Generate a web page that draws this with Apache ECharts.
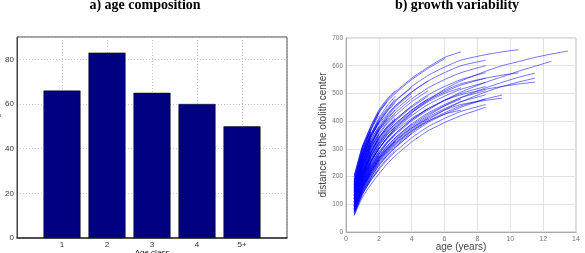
<!DOCTYPE html>
<html>
<head>
<meta charset="utf-8">
<script src="https://cdn.jsdelivr.net/npm/echarts@6/dist/echarts.min.js"></script>
<style>
  html, body { margin: 0; padding: 0; background: #fff; }
  #chart { width: 585px; height: 253px; }
</style>
</head>
<body>
<div id="chart"></div>
<script>
// a) age composition
const ageClasses = ['1', '2', '3', '4', '5+'];
const imageCounts = [66, 83, 65, 60, 50];

// b) growth variability: each curve is read at these ages (years), curves stop when the fish does
const growthAges = [0.5, 1, 1.5, 2, 2.5, 3, 4, 5, 6, 7, 8.5, 9.5, 10.5, 11.5, 12.5, 13.5];

const shortCurves = [
  [60, 140, 190], [75, 155, 215], [85, 170, 235], [95, 185, 250], [105, 200, 270],
  [115, 210, 285], [125, 225, 300], [135, 240, 320], [150, 260, 345], [165, 280, 360],
  [180, 290, 350], [70, 150, 210], [90, 175, 240], [110, 195, 265], [130, 215, 290],
  [145, 235, 310], [160, 250, 330], [100, 180, 245], [120, 205, 275], [200, 300, 365],
  [140, 250, 340], [170, 290, 370], [155, 270, 355], [190, 310, 360], [130, 240, 330],
  [65, 135, 185, 225], [80, 160, 215, 260], [95, 175, 240, 290], [110, 190, 255, 305],
  [120, 210, 275, 325], [135, 230, 295, 345], [150, 250, 320, 370], [170, 270, 345, 395],
  [185, 285, 365, 420], [90, 170, 230, 280], [105, 185, 250, 300], [125, 220, 285, 335],
  [140, 240, 305, 355], [160, 260, 330, 380], [75, 150, 205, 250], [110, 215, 300, 350],
  [145, 260, 345, 400], [175, 300, 370, 430], [85, 165, 225, 275], [130, 235, 310, 365]
];

const midCurves = [
  [70, 140, 190, 230, 265, 295], [90, 165, 220, 265, 300, 330], [110, 190, 250, 300, 340, 370],
  [130, 215, 280, 330, 370, 400], [150, 240, 305, 355, 395, 425], [175, 270, 340, 395, 435, 465],
  [190, 290, 365, 430, 470], [100, 180, 235, 280, 320, 350], [120, 200, 260, 310, 350, 380],
  [85, 160, 215, 260, 295, 325], [140, 225, 290, 340, 380, 410], [160, 255, 320, 370, 410, 440],
  [120, 225, 310, 370, 410], [100, 200, 280, 340, 380, 410], [165, 280, 350, 405, 445, 480],
  [180, 300, 380, 440, 480, 510], [155, 275, 350, 410, 455, 490],
  [75, 145, 195, 240, 275, 305, 355], [95, 170, 225, 270, 310, 340, 390],
  [115, 195, 255, 300, 340, 375, 425], [135, 220, 285, 335, 375, 405, 455],
  [155, 250, 315, 365, 405, 440, 490], [180, 280, 350, 400, 440, 475, 520],
  [85, 155, 210, 255, 290, 320, 370, 410], [105, 185, 240, 285, 325, 355, 405, 445],
  [125, 210, 270, 320, 360, 390, 440, 480], [145, 235, 300, 350, 390, 420, 470, 510],
  [165, 265, 330, 380, 420, 455, 505, 545], [140, 245, 320, 375, 415, 450, 500],
  [110, 200, 270, 325, 365, 400, 450, 490]
];

const oldCurves = [
  [60, 125, 170, 210, 245, 275, 325, 365, 395, 420, 450],
  [70, 135, 185, 225, 260, 290, 340, 380, 410, 435, 460],
  [80, 150, 200, 245, 280, 310, 360, 400, 430, 455, 480],
  [90, 165, 215, 260, 295, 325, 375, 415, 445, 470, 495],
  [100, 175, 230, 275, 310, 340, 390, 430, 460, 485, 510],
  [110, 190, 245, 290, 325, 355, 405, 445, 475, 500, 525],
  [120, 200, 255, 300, 340, 370, 420, 460, 490, 515, 540],
  [135, 215, 270, 315, 355, 385, 435, 475, 505, 530, 555],
  [150, 235, 290, 340, 375, 405, 455, 495, 525, 550, 575],
  [165, 255, 315, 365, 400, 430, 480, 520, 550, 575, 600],
  [180, 275, 340, 390, 425, 455, 505, 545, 575, 600, 620],
  [95, 170, 225, 270, 305, 335, 385, 425, 455, 480],
  [125, 205, 265, 310, 350, 380, 430, 470, 500, 520],
  [200, 305, 375, 430, 470, 500, 550, 590, 625],
  [205, 310, 380, 435, 475, 505, 555, 595, 630, 650],
  [85, 160, 210, 255, 290, 320, 365, 400, 425, 440],
  [110, 190, 250, 300, 340, 375, 430, 475, 515, 545, 580, 600, 615, 630, 642, 653],
  [100, 180, 235, 280, 320, 350, 400, 440, 475, 505, 540, 560, 580, 598, 616],
  [170, 270, 340, 395, 435, 470, 525, 565, 595, 620, 640, 650, 658],
  [90, 165, 220, 265, 300, 330, 380, 420, 455, 485, 520, 540, 558, 573],
  [80, 155, 205, 250, 285, 315, 365, 405, 440, 470, 505, 525, 541, 555],
  [120, 200, 255, 300, 335, 365, 410, 445, 475, 495, 515, 525, 534, 541],
  [130, 215, 275, 320, 360, 390, 440, 480, 510, 535, 555, 566, 574],
  [75, 145, 195, 240, 275, 305, 355, 395, 425, 450, 480, 494],
  [95, 170, 220, 265, 300, 330, 375, 410, 440, 460, 475, 483]
];

const growthCurves = shortCurves.concat(midCurves, oldCurves);

const chart = echarts.init(document.getElementById('chart'));

const lineSeries = growthCurves.map((c) => ({
  type: 'line',
  xAxisIndex: 1,
  yAxisIndex: 1,
  symbol: 'none',
  smooth: 0.2,
  silent: true,
  lineStyle: { color: 'rgba(0,0,255,0.55)', width: 1 },
  data: c.map((v, i) => [growthAges[i], v])
}));

const titleRich = {
  n: { fontFamily: 'Liberation Serif', fontSize: 14, color: '#000' },
  b: { fontFamily: 'Liberation Serif', fontSize: 14, fontWeight: 'bold', color: '#000' }
};

const option = {
  animation: false,
  title: [
    {
      text: '{n|a) }{b|age composition}',
      left: 140, top: -7, textAlign: 'center',
      textStyle: { rich: titleRich }
    },
    {
      text: '{n|b) }{b|growth variability}',
      left: 452, top: -7, textAlign: 'center',
      textStyle: { rich: titleRich }
    }
  ],
  grid: [
    { left: 17, top: 37, width: 270, height: 201, show: true, borderColor: '#444', borderWidth: 1, outerBoundsMode: 'none', containLabel: false },
    { left: 346, top: 38, width: 230, height: 194, show: true, borderColor: '#bbb', borderWidth: 1, outerBoundsMode: 'none', containLabel: false }
  ],
  xAxis: [
    {
      gridIndex: 0, type: 'value', min: 0, max: 6, interval: 1,
      name: 'Age class', nameLocation: 'middle', nameGap: 11, nameMoveOverlap: false,
      nameTextStyle: { fontFamily: 'Liberation Sans', fontSize: 8, color: '#222' },
      axisLine: { lineStyle: { color: '#333', width: 1.5 } },
      axisTick: { show: false },
      axisLabel: {
        fontFamily: 'Liberation Sans', fontSize: 8, color: '#333', margin: 3,
        formatter: (v) => (v >= 1 && v <= 5 ? ageClasses[v - 1] : '')
      },
      splitLine: { show: true, lineStyle: { color: '#bbb', type: [1, 2], width: 0.8 } }
    },
    {
      gridIndex: 1, type: 'value', min: 0, max: 14, interval: 2,
      name: 'age (years)', nameLocation: 'middle', nameGap: 10, nameMoveOverlap: false,
      nameTextStyle: { fontFamily: 'Liberation Sans', fontSize: 10, color: '#444' },
      axisLine: { lineStyle: { color: '#aaa' } },
      axisTick: { show: false },
      axisLabel: { fontFamily: 'Liberation Sans', fontSize: 7, color: '#777', margin: 4 },
      splitLine: { show: true, lineStyle: { color: '#e2e2e2', width: 1 } }
    }
  ],
  yAxis: [
    {
      gridIndex: 0, type: 'value', min: 0, max: 90, interval: 20,
      name: 'Number of images', nameLocation: 'middle', nameGap: 16, nameMoveOverlap: false,
      nameTextStyle: { fontFamily: 'Liberation Sans', fontSize: 8, color: '#555' },
      axisLine: { show: true, lineStyle: { color: '#444', width: 1 } },
      axisTick: { show: false },
      axisLabel: {
        fontFamily: 'Liberation Sans', fontSize: 8, color: '#333', margin: 3,
        showMaxLabel: false
      },
      splitLine: { show: true, lineStyle: { color: '#bbb', type: [1, 2], width: 0.8 } }
    },
    {
      gridIndex: 1, type: 'value', min: 0, max: 700, interval: 100,
      name: 'distance to the otolith center', nameLocation: 'middle', nameGap: 17,
      nameTextStyle: { fontFamily: 'Liberation Sans', fontSize: 10, color: '#444' },
      axisLine: { show: true, lineStyle: { color: '#aaa' } },
      axisTick: { show: false },
      axisLabel: { fontFamily: 'Liberation Sans', fontSize: 6.5, color: '#777', margin: 3 },
      splitLine: { show: true, lineStyle: { color: '#e2e2e2', width: 1 } }
    }
  ],
  series: [
    {
      type: 'bar',
      xAxisIndex: 0,
      yAxisIndex: 0,
      barWidth: 37,
      itemStyle: { color: '#000080', borderColor: '#000', borderWidth: 0.5 },
      data: imageCounts.map((v, i) => [i + 1, v])
    }
  ].concat(lineSeries)
};

chart.setOption(option);
</script>
</body>
</html>
